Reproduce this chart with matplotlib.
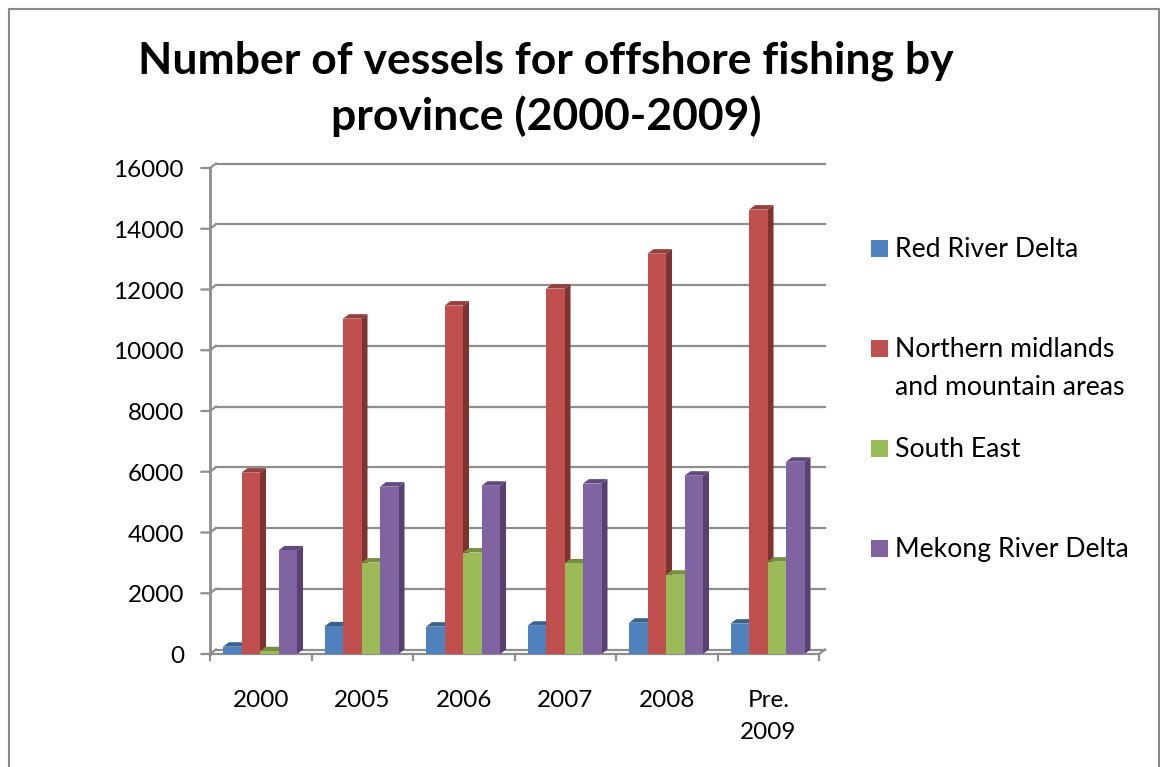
import matplotlib
matplotlib.use('Agg')
import matplotlib.pyplot as plt
from matplotlib.patches import Polygon, Rectangle
import numpy as np

categories = ["2000", "2005", "2006", "2007", "2008", "Pre.\n2009"]
red_river = [240, 910, 900, 930, 1030, 1000]
northern = [5970, 11040, 11470, 12030, 13180, 14630]
south_east = [90, 3010, 3340, 2980, 2610, 3040]
mekong = [3410, 5510, 5540, 5610, 5870, 6330]
y_ticks = [0, 2000, 4000, 6000, 8000, 10000, 12000, 14000, 16000]

names = ["Red River Delta", "Northern midlands\nand mountain areas", "South East", "Mekong River Delta"]
series = [red_river, northern, south_east, mekong]
front = ["#4F81BD", "#C0504D", "#9BBB59", "#8064A2"]
top = ["#3A6390", "#94403D", "#77903F", "#63497F"]
side = ["#375A85", "#7F3331", "#6B8237", "#564170"]
axis_col = "#8E8E8E"

W, H = 1160, 767
plt.rcParams['font.family'] = ['Lato', 'DejaVu Sans']
fig = plt.figure(figsize=(W / 100, H / 100), dpi=100)

# figure border, cut off at the bottom like the original
fig.add_artist(Rectangle((9 / W, -0.01), 1149.5 / W, 1.01 - 9 / H, fill=False, ec="#8A8A8A", lw=1.5,
                         transform=fig.transFigure))

ax = fig.add_axes([210 / W, 1 - 654 / H, 609 / W, 486 / H])
ax.set_xlim(0, 6)
ax.set_ylim(0, 16000)
ax.patch.set_visible(False)
for s in ax.spines.values():
    s.set_visible(False)

# depth of the fake 3d, in data units
dx = 6 / 609 * 6
dy = 4.5 / 486 * 16000
tick_len = 8.5 / 609 * 6

# back wall
for v in y_ticks:
    ax.plot([dx, 6 + dx], [v + dy, v + dy], color=axis_col, lw=1.6, clip_on=False, zorder=1)
    ax.plot([-tick_len, 0, dx], [v, v, v + dy], color=axis_col, lw=1.6, clip_on=False, zorder=1)
ax.plot([0, 0], [0, 16000], color=axis_col, lw=2, clip_on=False, zorder=1)
ax.plot([0, 6], [0, 0], color=axis_col, lw=1.6, clip_on=False, zorder=1)
ax.plot([6, 6 + dx], [0, dy], color=axis_col, lw=1.6, clip_on=False, zorder=1)
for i in range(7):
    ax.plot([i, i], [0, -210], color=axis_col, lw=1.6, clip_on=False, zorder=1)

bar_w = 18.5 / 609 * 6
start = 13 / 609 * 6
for i in range(len(categories)):
    for j in range(4):
        v = series[j][i]
        x0 = i + start + j * bar_w
        x1 = x0 + bar_w
        z = 3 + j
        ax.bar(x0, v, bar_w, align='edge', color=front[j], zorder=z + 0.2, clip_on=False)
        ax.add_patch(Polygon([(x0, v), (x1, v), (x1 + dx, v + dy), (x0 + dx, v + dy)], closed=True,
                             color=top[j], lw=0, zorder=z, clip_on=False))
        ax.add_patch(Polygon([(x1, 0), (x1 + dx, dy), (x1 + dx, v + dy), (x1, v)], closed=True,
                             color=side[j], lw=0, zorder=z, clip_on=False))

ax.set_xticks([])
ax.set_yticks([])
for v in y_ticks:
    ax.text(-26 * 6 / 609, v - 90, str(v), ha='right', va='center', fontsize=17.5, color="black")
for i, c in enumerate(categories):
    ax.text(i + 0.5, -1190, c, ha='center', va='top', fontsize=17.5, color="black", linespacing=1.65)

fig.text(546 / W, 1 - 89 / H, "Number of vessels for offshore fishing by\nprovince (2000-2009)",
         ha='center', va='center', fontsize=32, fontweight='bold', color="black", linespacing=1.4)

# legend
legend_y = [248, 348, 448, 548]
for name, col, ly in zip(names, front, legend_y):
    fig.add_artist(Rectangle((871 / W, 1 - (ly + 8.5) / H), 17 / W, 17 / H, color=col, lw=0,
                             transform=fig.transFigure))
    fig.text(895 / W, 1 - (ly - 11) / H, name, ha='left', va='top', fontsize=19.2, color="black",
             linespacing=1.65)

fig.savefig("out.png", dpi=100)
